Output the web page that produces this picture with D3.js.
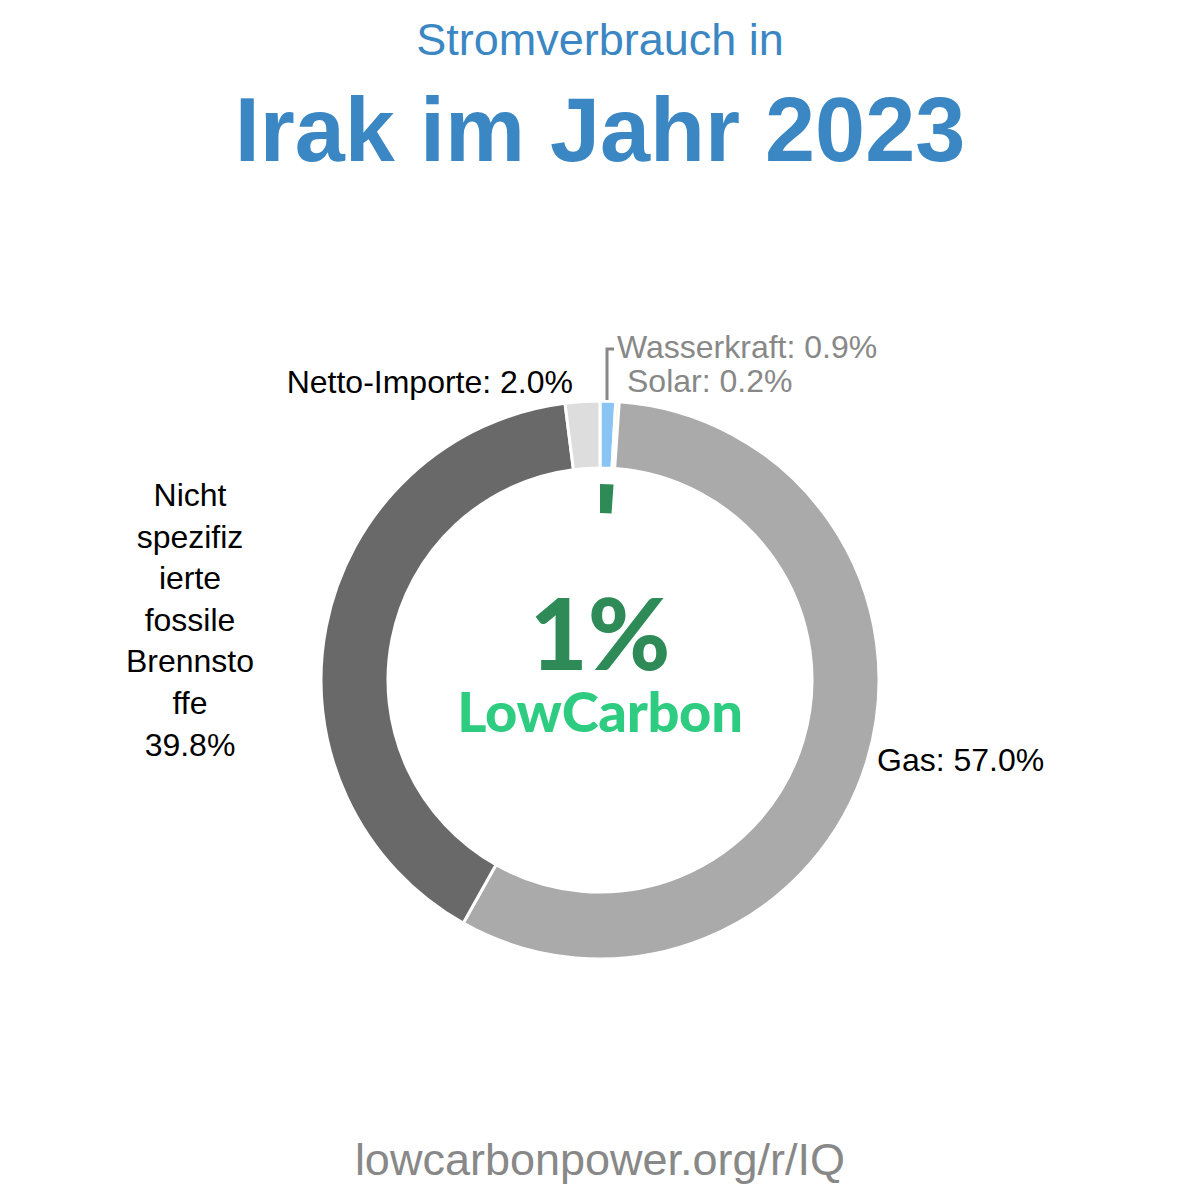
<!DOCTYPE html>
<html><head><meta charset="utf-8">
<script src="https://cdn.jsdelivr.net/npm/d3@7"></script>
<style>body{margin:0;background:#fff}</style>
</head><body>
<svg id="c" width="1200" height="1200"></svg>
<script>
const categories = ["Wasserkraft","Solar","Gas","Nicht spezifizierte fossile Brennstoffe","Netto-Importe"];
const values = [0.9, 0.2, 57.0, 39.8, 2.0];
const colors = ["#89c4f4","#f7e08a","#aaaaaa","#696969","#dddddd"];
const lowCarbonShare = [1.1];
const centerLabel = "1%";

const svg = d3.select("#c");
const cx = 600, cy = 680, rOuter = 279, rInner = 212;
const total = d3.sum(values);
const pie = d3.pie().sort(null).value(d => d)(values);
const arc = d3.arc().innerRadius(rInner).outerRadius(rOuter);
const g = svg.append("g").attr("transform", `translate(${cx},${cy})`);
g.selectAll("path.s").data(pie).join("path").attr("class","s")
  .attr("d", arc).attr("fill", (d,i) => colors[i])
  .attr("stroke","#fff").attr("stroke-width",3);

// low carbon inner arc
const lcAngle = d3.scaleLinear().domain([0,total]).range([0, 2*Math.PI]);
g.append("path").attr("d", d3.arc().innerRadius(167).outerRadius(196)
  .startAngle(0).endAngle(lcAngle(lowCarbonShare[0]))()).attr("fill","#2e8b57");

const F = "Liberation Sans, Arial, sans-serif";
// titles
svg.append("text").attr("x",600).attr("y",55).attr("text-anchor","middle")
  .attr("font-family",F).attr("font-size",45)
  .attr("fill","#3b87c3").text("Stromverbrauch in");
svg.append("text").attr("x",600).attr("y",161).attr("text-anchor","middle")
  .attr("font-family",F).attr("font-size",90).attr("font-weight","bold")
  .attr("fill","#3b87c3").text("Irak im Jahr 2023");
svg.append("text").attr("x",600).attr("y",1175).attr("text-anchor","middle")
  .attr("font-family",F).attr("font-size",45)
  .attr("fill","#888").text("lowcarbonpower.org/r/IQ");

// center
svg.append("text").attr("x",600).attr("y",670).attr("text-anchor","middle")
  .attr("font-family","Lato, sans-serif").attr("font-size",100).attr("font-weight","900")
  .attr("fill","#2e8b57").text(centerLabel);
svg.append("text").attr("x",600).attr("y",732).attr("text-anchor","middle")
  .attr("font-family","Lato, sans-serif").attr("font-size",56).attr("font-weight","900")
  .attr("letter-spacing",-0.3)
  .attr("fill","#2ecc81").text("LowCarbon");

const fmt = v => v.toFixed(1) + "%";
// labels
svg.append("text").attr("x",573).attr("y",393).attr("text-anchor","end").attr("font-family",F)
  .attr("font-size",32).attr("fill","#000").text(`${categories[4]}: ${fmt(values[4])}`);
svg.append("text").attr("x",877).attr("y",771).attr("text-anchor","start").attr("font-family",F)
  .attr("font-size",32).attr("fill","#000").text(`${categories[2]}: ${fmt(values[2])}`);
svg.append("text").attr("x",617).attr("y",358).attr("font-family",F)
  .attr("font-size",32).attr("fill","#888").text(`${categories[0]}: ${fmt(values[0])}`);
svg.append("text").attr("x",627).attr("y",392).attr("font-family",F)
  .attr("font-size",32).attr("fill","#888").text(`${categories[1]}: ${fmt(values[1])}`);
svg.append("path").attr("d","M607,400 L607,349 L614,349").attr("fill","none")
  .attr("stroke","#888").attr("stroke-width",3);
const leftLines = ["Nicht","spezifiz","ierte","fossile","Brennsto","ffe", fmt(values[3])];
svg.append("text").attr("font-family",F).attr("font-size",32).attr("fill","#000")
  .attr("text-anchor","middle")
  .selectAll("tspan").data(leftLines).join("tspan")
  .attr("x",190).attr("y",(d,i)=>506+i*41.6).text(d=>d);
</script>
</body></html>
